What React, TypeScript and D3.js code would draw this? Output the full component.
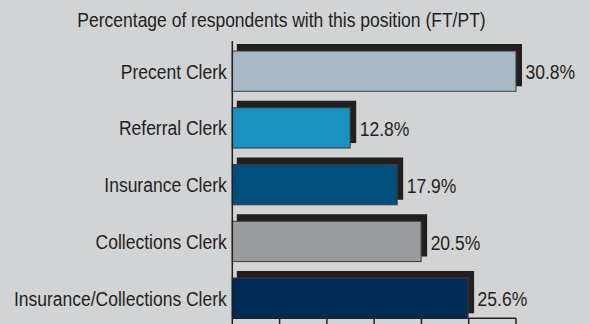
import React from "react";
import * as d3 from "d3";

const categories = [
  "Precent Clerk",
  "Referral Clerk",
  "Insurance Clerk",
  "Collections Clerk",
  "Insurance/Collections Clerk",
];
const values = [30.8, 12.8, 17.9, 20.5, 25.6];
const barColors = ["#a7b9c6", "#1a91bf", "#01507c", "#9a9b9d", "#002b54"];
const title = "Percentage of respondents with this position (FT/PT)";

const W = 590;
const H = 324;
const FONT = "'Liberation Sans', Arial, sans-serif";
const INK = "#231f20";
const SQUEEZE = 0.875; // condensed look: horizontal compression of glyphs

function Label(props: {
  x: number;
  y: number;
  anchor: "start" | "middle" | "end";
  size: number;
  children: React.ReactNode;
}) {
  return (
    <text
      transform={`translate(${props.x},${props.y}) scale(${SQUEEZE},1)`}
      textAnchor={props.anchor}
      fontFamily={FONT}
      fontSize={props.size}
      fill={INK}
    >
      {props.children}
    </text>
  );
}

export default function App() {
  const maxV = d3.max(values) as number;
  const x = d3.scaleLinear().domain([0, maxV]).range([232.3, 516]);
  const y = d3
    .scaleBand<string>()
    .domain(categories)
    .range([51, 318.3])
    .paddingInner(0.29)
    .paddingOuter(0);
  const tickValues = d3.range(0, 7).map((i) => (i * maxV) / 6);
  const bw = y.bandwidth();

  return (
    <svg
      width={W}
      height={H}
      style={{ position: "absolute", left: 0, top: 0, display: "block" }}
    >
      <rect x={0} y={0} width={W} height={H} fill="#d2d3d5" />
      <Label x={281.5} y={27} anchor="middle" size={20}>
        {title}
      </Label>

      {categories.map((c, i) => {
        const top = y(c) as number;
        const x0 = x(0);
        const x1 = x(values[i]);
        return (
          <g key={c}>
            <rect
              x={x0 + 4.5}
              y={top - 7}
              width={x1 + 6 - (x0 + 4.5)}
              height={bw + 2}
              fill={INK}
            />
            <rect
              x={x0}
              y={top}
              width={x1 - x0}
              height={bw}
              fill={barColors[i]}
              stroke="#3b3b3d"
              strokeWidth={1}
            />
            <Label x={x0 - 5.5} y={top + bw / 2 + 7.5} anchor="end" size={20}>
              {c}
            </Label>
            <Label x={x1 + 9.5} y={top + bw / 2 + 8.3} anchor="start" size={20}>
              {values[i].toFixed(1)}%
            </Label>
          </g>
        );
      })}

      {/* axes */}
      <line x1={x(0)} x2={x(0)} y1={41} y2={318.3} stroke={INK} strokeWidth={1.5} />
      <line x1={x(0)} x2={x(maxV)} y1={318.3} y2={318.3} stroke={INK} strokeWidth={1.5} />
      {tickValues.map((t, i) => (
        <line
          key={i}
          x1={x(t)}
          x2={x(t)}
          y1={318.3}
          y2={326}
          stroke={INK}
          strokeWidth={1.5}
        />
      ))}
    </svg>
  );
}
